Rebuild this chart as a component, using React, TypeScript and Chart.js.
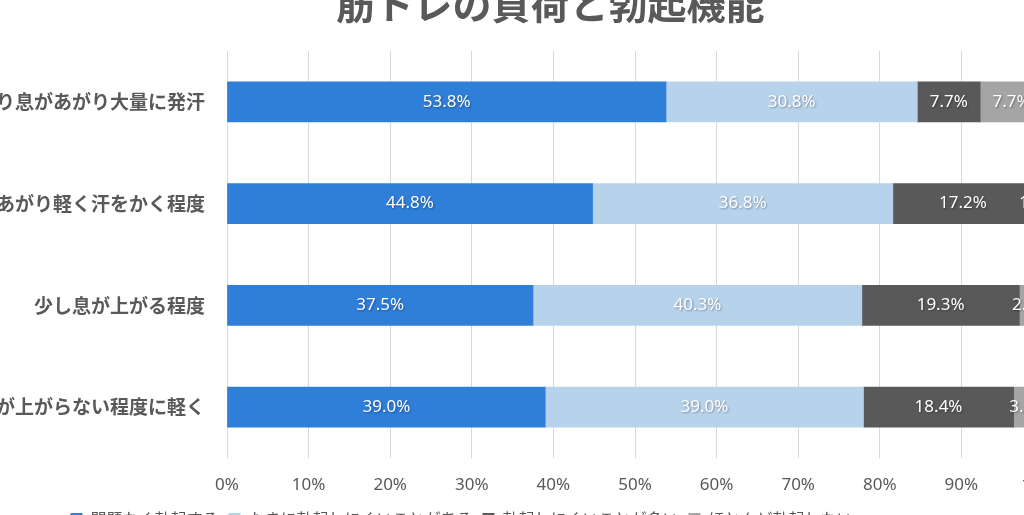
import { useEffect, useRef } from "react"
import { Chart, registerables, type ChartConfiguration, type Plugin } from "chart.js"

Chart.register(...registerables)

const chartTitle = "筋トレの負荷と勃起機能"

const categories = [
  "かなり息があがり大量に発汗",
  "息があがり軽く汗をかく程度",
  "少し息が上がる程度",
  "息が上がらない程度に軽く",
]

const seriesNames = ["問題なく勃起する", "たまに勃起しにくいことがある", "勃起しにくいことが多い", "ほとんど勃起しない"]
const noProblem = [53.8, 44.8, 37.5, 39.0]
const fewProblems = [30.8, 36.8, 40.3, 39.0]
const someProblems = [7.7, 17.2, 19.3, 18.4]
const bigProblems = [7.7, 1.2, 2.9, 3.6]
const xTicks = [0, 10, 20, 30, 40, 50, 60, 70, 80, 90, 100]

const colors = ["#2f7ed8", "#b7d3ec", "#595959", "#a5a5a5"]

// title centred on the whole canvas (the built-in one is centred between the paddings)
const centredTitle: Plugin<"bar"> = {
  id: "centredTitle",
  afterDraw(chart) {
    const ctx = chart.ctx
    ctx.save()
    ctx.font = 'bold 39px "Noto Sans CJK JP"'
    ctx.fillStyle = "#595959"
    ctx.textAlign = "center"
    ctx.textBaseline = "middle"
    ctx.fillText(chartTitle, chart.width / 2, 26)
    ctx.restore()
  },
}

// draws the value in the middle of every segment
const segmentLabels: Plugin<"bar"> = {
  id: "segmentLabels",
  afterDatasetsDraw(chart) {
    const ctx = chart.ctx
    ctx.save()
    ctx.font = '17px "Noto Sans", "Noto Sans CJK JP"'
    ctx.textAlign = "center"
    ctx.textBaseline = "middle"
    ctx.shadowColor = "rgba(0,0,0,0.35)"
    ctx.shadowBlur = 2
    ctx.shadowOffsetX = 1
    ctx.shadowOffsetY = 1
    ctx.fillStyle = "#ffffff"
    chart.data.datasets.forEach((ds, i) => {
      const meta = chart.getDatasetMeta(i)
      meta.data.forEach((bar: any, j) => {
        const v = ds.data[j] as number
        const x = (bar.x + bar.base) / 2
        ctx.fillText(`${v.toFixed(1)}%`, x, bar.y)
      })
    })
    ctx.restore()
  },
}

export default function App() {
  const chartRef = useRef<HTMLCanvasElement>(null)
  const chartInstance = useRef<Chart | null>(null)

  useEffect(() => {
    if (!chartRef.current) return
    if (chartInstance.current) chartInstance.current.destroy()

    const series = [noProblem, fewProblems, someProblems, bigProblems]

    const config: ChartConfiguration<"bar"> = {
      type: "bar",
      data: {
        labels: categories,
        datasets: series.map((d, i) => ({
          label: seriesNames[i],
          data: d,
          backgroundColor: colors[i],
          borderWidth: 0,
          barThickness: 40,
        })),
      },
      options: {
        indexAxis: "y",
        responsive: false,
        animation: false,
        layout: { padding: { left: 0, right: 177, top: 73, bottom: 4 } },
        plugins: {
          title: { display: false },
          legend: {
            position: "bottom",
            labels: {
              color: "#595959",
              font: { family: '"Noto Sans CJK JP"', size: 16 },
              boxWidth: 12,
              boxHeight: 12,
              padding: 10,
            },
          },
          tooltip: { enabled: false },
        },
        scales: {
          x: {
            stacked: true,
            min: 0,
            max: 100,
            afterBuildTicks: (scale) => {
              scale.ticks = xTicks.map((v) => ({ value: v }))
            },
            afterFit: (scale) => {
              scale.height = 43
            },
            grid: { color: "#d9d9d9", drawTicks: false },
            border: { display: false },
            ticks: {
              color: "#595959",
              padding: 17,
              font: { family: '"Noto Sans"', size: 17 },
              callback: (v) => `${v}%`,
            },
          },
          y: {
            stacked: true,
            afterFit: (scale) => {
              scale.width = 347
            },
            grid: { display: false, drawTicks: false },
            border: { display: false },
            ticks: {
              color: "#595959",
              padding: 22,
              font: { family: '"Noto Sans CJK JP"', size: 19, weight: "bold" },
            },
          },
        },
      },
      plugins: [segmentLabels, centredTitle],
    }

    chartInstance.current = new Chart(chartRef.current, config)

    return () => {
      if (chartInstance.current) {
        chartInstance.current.destroy()
        chartInstance.current = null
      }
    }
  }, [])

  return (
    <div style={{ position: "fixed", left: 0, top: 0, width: "100vw", height: "100vh", overflow: "hidden", background: "#fff" }}>
      <canvas
        ref={chartRef}
        width={1340}
        height={563}
        style={{ position: "absolute", left: -120, top: -22, width: 1340, height: 563 }}
      ></canvas>
    </div>
  )
}
